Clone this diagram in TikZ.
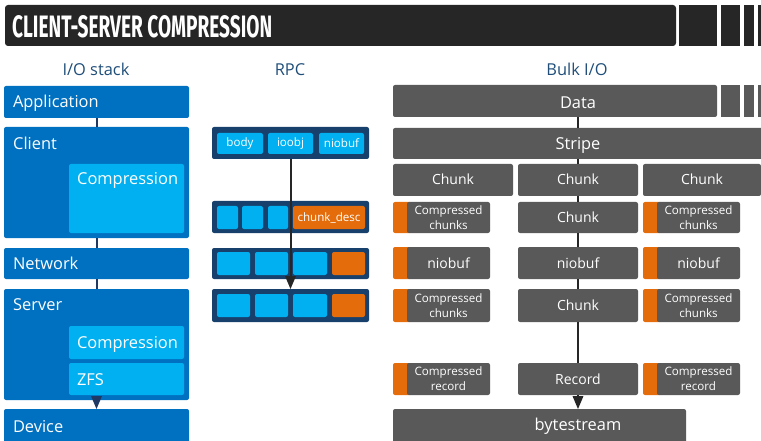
\documentclass[tikz,border=0pt]{standalone}
\usepackage{fontspec}
\setmainfont{Open Sans}
\newfontfamily\titlefont{Fira Sans}
\usetikzlibrary{arrows}

\definecolor{stackblue}{HTML}{0070C0}
\definecolor{lightblue}{HTML}{00B0F0}
\definecolor{rpcnavy}{HTML}{17406D}
\definecolor{chunkorange}{HTML}{E46C0A}
\definecolor{bulkgray}{HTML}{595959}
\definecolor{titleblack}{HTML}{262626}
\definecolor{headblue}{HTML}{1F4E79}
\definecolor{linenavy}{HTML}{1F3864}

\newcommand{\bigtxt}{\fontsize{16.4}{19}\selectfont}
\newcommand{\midtxt}{\fontsize{14}{16}\selectfont}
\newcommand{\smalltxt}{\fontsize{11.6}{15}\selectfont}

\tikzset{
  box/.style={rounded corners=2pt, inner sep=0pt, outer sep=0pt, anchor=north west, text=white},
  stackbox/.style={box, fill=stackblue, text width=167, align=left, font=\bigtxt, text height=12, text depth=0},
  innerbox/.style={box, fill=lightblue, text width=99, align=left, font=\bigtxt, text height=12, text depth=0},
  rpcrow/.style={box, fill=rpcnavy},
  rpccell/.style={box, fill=lightblue, font=\smalltxt},
  rpcorange/.style={box, fill=chunkorange, font=\smalltxt},
  bulkbox/.style={box, fill=bulkgray, font=\midtxt, align=center},
  onerow/.style={text height=10, text depth=0},
  strip/.style={box, fill=chunkorange, minimum width=18},
  lbl/.style={inner sep=0pt, text=white, font=\bigtxt, text height=11.7, text depth=0},
  head/.style={inner sep=0pt, text=headblue, font=\bigtxt, text height=11.7, text depth=0},
  stackline/.style={draw=linenavy, line width=2pt},
  rpcline/.style={draw=titleblack, line width=2pt},
  bulkline/.style={draw=titleblack, line width=2pt}
}

\begin{document}
\begin{tikzpicture}[x=1pt, y=-1pt]
  \useasboundingbox (0,0) rectangle (761,441);
  \clip (0,0) rectangle (761,441);

  % title
  \node[box, fill=titleblack, rounded corners=3pt, minimum width=671, minimum height=41] (titlebar) at (5,5) {};
  \fill[titleblack] (679,5) rectangle (717,46);
  \fill[titleblack] (721,5) rectangle (740,46);
  \fill[titleblack] (744,5) rectangle (754,46);
  \fill[titleblack] (758,5) rectangle (763,46);
  \node[inner sep=0pt, anchor=south west, text=white] (title) at (12,38)
    {\resizebox{260pt}{22pt}{\titlefont\bfseries CLIENT-SERVER COMPRESSION}};

  % headers
  \node[head] (hstack) at (96,70) {I/O stack};
  \node[head] (hrpc) at (290,70) {RPC};
  \node[head] (hbulk) at (577,70) {Bulk I/O};

  % I/O stack
  \node[stackbox, minimum width=185, minimum height=32] (app) at (4,86) {Application};
  \node[stackbox, minimum width=185, minimum height=111] (client) at (4,127) {};
  \node[lbl, anchor=west] (clientlbl) at (13,144) {Client};
  \node[innerbox, minimum width=115, minimum height=69] (ccomp) at (69,164) {};
  \node[lbl, anchor=west] (ccomplbl) at (77,179) {Compression};
  \node[stackbox, minimum width=185, minimum height=31] (net) at (4,248) {Network};
  \node[stackbox, minimum width=185, minimum height=111] (srv) at (4,289) {};
  \node[lbl, anchor=west] (srvlbl) at (13,305) {Server};
  \node[innerbox, minimum width=115, minimum height=33] (scomp) at (69,326) {Compression};
  \node[innerbox, minimum width=115, minimum height=32] (zfs) at (69,363) {ZFS};
  \node[stackbox, minimum width=185, minimum height=34] (dev) at (4,409) {Device};

  \draw[stackline] (app) -- (client);
  \draw[stackline] (client) -- (net);
  \draw[stackline] (net) -- (srv);
  \draw[stackline, -triangle 45] (srv) -- (dev);

  % RPC
  \node[rpcrow, minimum width=157, minimum height=32] (r1) at (212,127) {};
  \node[rpccell, minimum width=46, minimum height=21] (body) at (217,133) {body};
  \node[rpccell, minimum width=45, minimum height=21] (ioobj) at (268,133) {ioobj};
  \node[rpccell, minimum width=45, minimum height=21] (niobuf) at (319,133) {niobuf};

  \node[rpcrow, minimum width=157, minimum height=32] (r2) at (212,201) {};
  \node[rpccell, minimum width=21, minimum height=23] (r2a) at (217,206) {};
  \node[rpccell, minimum width=21, minimum height=23] (r2b) at (242,206) {};
  \node[rpccell, minimum width=20, minimum height=23] (r2c) at (268,206) {};
  \node[rpcorange, minimum width=72, minimum height=23] (desc) at (293,206) {chunk\_desc};

  \node[rpcrow, minimum width=157, minimum height=31] (r3) at (212,248) {};
  \node[rpccell, minimum width=33, minimum height=23] (r3a) at (217,252) {};
  \node[rpccell, minimum width=33, minimum height=23] (r3b) at (255,252) {};
  \node[rpccell, minimum width=34, minimum height=23] (r3c) at (293,252) {};
  \node[rpcorange, minimum width=33, minimum height=23] (r3d) at (332,252) {};

  \node[rpcrow, minimum width=157, minimum height=33] (r4) at (212,289) {};
  \node[rpccell, minimum width=33, minimum height=23] (r4a) at (217,294) {};
  \node[rpccell, minimum width=33, minimum height=23] (r4b) at (255,294) {};
  \node[rpccell, minimum width=34, minimum height=23] (r4c) at (293,294) {};
  \node[rpcorange, minimum width=33, minimum height=23] (r4d) at (332,294) {};

  \draw[rpcline, -triangle 45] (r1) -- (r4);

  % Bulk I/O
  \node[bulkbox, minimum width=324, minimum height=32] (data) at (393,85) {};
  \fill[bulkgray] (721,85) rectangle (740,117);
  \fill[bulkgray] (744,85) rectangle (754,117);
  \fill[bulkgray] (758,85) rectangle (763,117);
  \node[lbl] (datalbl) at (578,102.5) {Data};
  \node[bulkbox, minimum width=372, minimum height=31] (stripe) at (393,128) {};
  \node[lbl] (stripelbl) at (578,144) {Stripe};

  \node[bulkbox, onerow, minimum width=120, minimum height=32] (ch1) at (393,164) {Chunk};
  \node[bulkbox, onerow, minimum width=120, minimum height=32] (ch2) at (518,164) {Chunk};
  \node[bulkbox, onerow, minimum width=118, minimum height=32] (ch3) at (643,164) {Chunk};

  \node[strip, minimum height=31] (cms1) at (393,202) {};
  \node[bulkbox, font=\smalltxt, minimum width=83, minimum height=31] (cm1) at (407,202) {Compressed\\chunks};
  \node[bulkbox, onerow, minimum width=120, minimum height=31] (cm2) at (518,202) {Chunk};
  \node[strip, minimum height=31] (cms3) at (643,202) {};
  \node[bulkbox, font=\smalltxt, minimum width=83, minimum height=31] (cm3) at (657,202) {Compressed\\chunks};

  \node[strip, minimum height=32] (nbs1) at (393,247) {};
  \node[bulkbox, onerow, minimum width=83, minimum height=32] (nb1) at (407,247) {niobuf};
  \node[bulkbox, onerow, minimum width=120, minimum height=32] (nb2) at (518,247) {niobuf};
  \node[strip, minimum height=32] (nbs3) at (643,247) {};
  \node[bulkbox, onerow, minimum width=83, minimum height=32] (nb3) at (657,247) {niobuf};

  \node[strip, minimum height=33] (ccs1) at (393,289) {};
  \node[bulkbox, font=\smalltxt, minimum width=83, minimum height=33] (cc1) at (407,289) {Compressed\\chunks};
  \node[bulkbox, onerow, minimum width=120, minimum height=33] (cc2) at (518,289) {Chunk};
  \node[strip, minimum height=33] (ccs3) at (643,289) {};
  \node[bulkbox, font=\smalltxt, minimum width=83, minimum height=33] (cc3) at (657,289) {Compressed\\chunks};

  \node[strip, minimum height=32] (crs1) at (393,363) {};
  \node[bulkbox, font=\smalltxt, minimum width=83, minimum height=32] (cr1) at (407,363) {Compressed\\record};
  \node[bulkbox, onerow, minimum width=120, minimum height=32] (rec) at (518,363) {Record};
  \node[strip, minimum height=32] (crs3) at (643,363) {};
  \node[bulkbox, font=\smalltxt, minimum width=83, minimum height=32] (cr3) at (657,363) {Compressed\\record};

  \node[bulkbox, minimum width=293, minimum height=36] (bs) at (393,409) {};
  \node[lbl] (bslbl) at (578,425) {bytestream};

  \draw[bulkline] (ch2 |- data.south) -- (ch2 |- stripe.north);
  \draw[bulkline] (ch2 |- stripe.south) -- (ch2.north);
  \draw[bulkline] (ch2) -- (cm2);
  \draw[bulkline] (cm2) -- (nb2);
  \draw[bulkline] (nb2) -- (cc2);
  \draw[bulkline] (cc2) -- (rec);
  \draw[bulkline, -triangle 45] (rec) -- (rec |- bs.north);
\end{tikzpicture}
\end{document}
